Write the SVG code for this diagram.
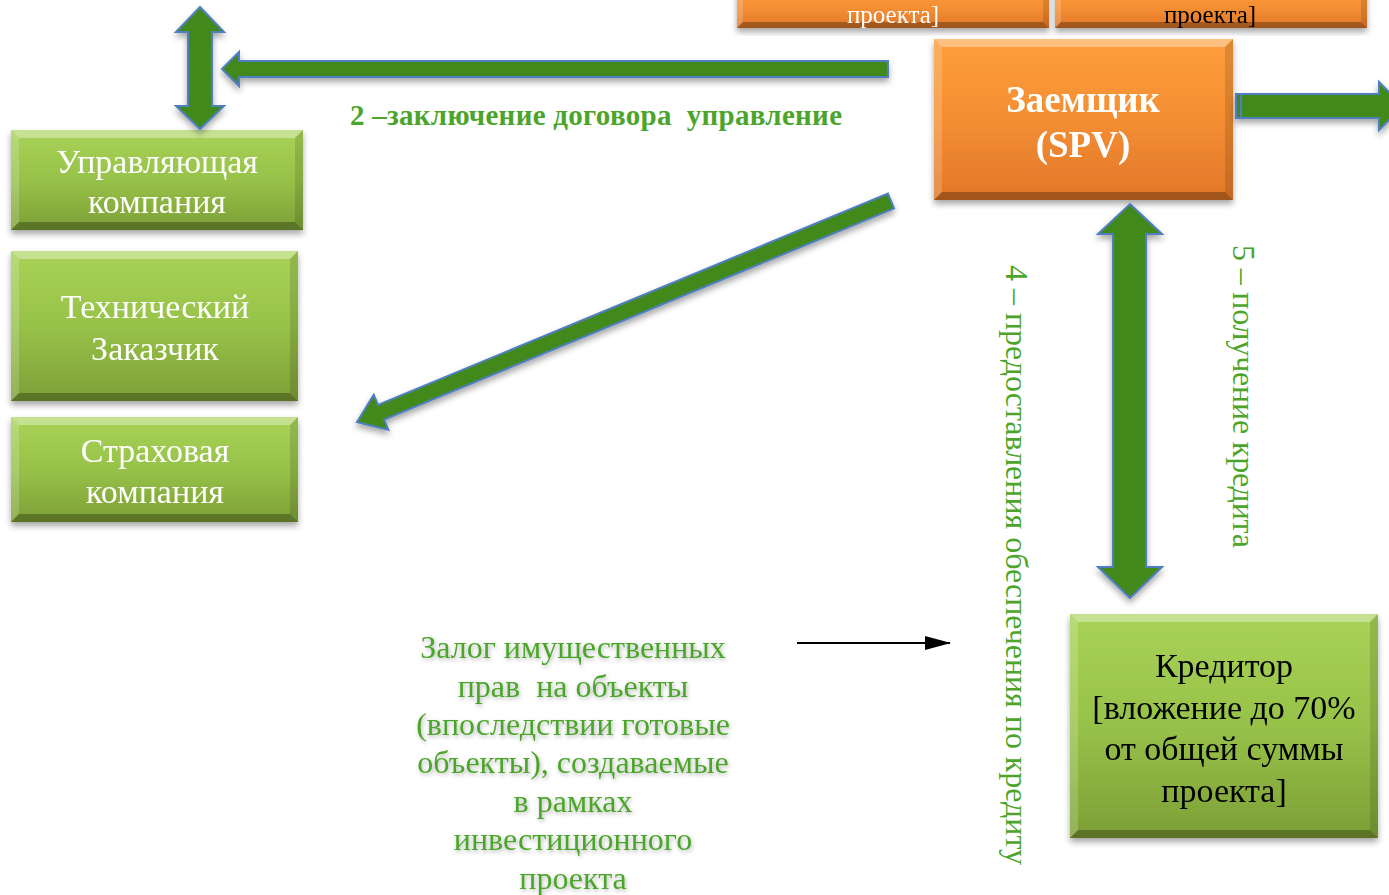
<svg xmlns="http://www.w3.org/2000/svg" width="1389" height="895" viewBox="0 0 1389 895">
<defs>
<linearGradient id="gg" x1="0" y1="0" x2="0" y2="1">
<stop offset="0" stop-color="#a8d357"/>
<stop offset="0.5" stop-color="#97c249"/>
<stop offset="1" stop-color="#7d9f36"/>
</linearGradient>
<linearGradient id="og" x1="0" y1="0" x2="0" y2="1">
<stop offset="0" stop-color="#fd9e3c"/>
<stop offset="0.5" stop-color="#f48e32"/>
<stop offset="1" stop-color="#e0772a"/>
</linearGradient>
<filter id="sh" x="-10%" y="-10%" width="120%" height="130%">
<feDropShadow dx="0" dy="4" stdDeviation="3" flood-color="#000" flood-opacity="0.35"/>
</filter>
<filter id="ts" x="-10%" y="-10%" width="120%" height="130%">
<feDropShadow dx="1" dy="2" stdDeviation="2" flood-color="#000" flood-opacity="0.3"/>
</filter>
<marker id="ah" viewBox="0 0 26 14" refX="25" refY="7" markerWidth="26" markerHeight="14" markerUnits="userSpaceOnUse" orient="auto">
<path d="M0,0 L26,7 L0,14 z" fill="#000"/>
</marker>
</defs>
<style>
.bt{fill:#fff;opacity:.35}
.bl{fill:#fff;opacity:.18}
.br{fill:#000;opacity:.12}
.bb{fill:#000;opacity:.28}
.wt{font-family:"Liberation Serif",serif;font-size:34px;fill:#fff;text-anchor:middle}
.bk{font-family:"Liberation Serif",serif;font-size:34px;fill:#000;text-anchor:middle}
.sm{font-size:25px}
.hd{font-size:37px;font-weight:bold}
.gt{font-family:"Liberation Serif",serif;font-size:32px;fill:#4ca52a}
.lb{font-size:29px;font-weight:bold}
.vt{font-size:32px}
.arr{fill:#43891a;stroke:#4f7fc0;stroke-width:2;stroke-linejoin:miter}
</style>

<g id="top-box-1" filter="url(#sh)">
<rect x="737" y="-12" width="312" height="40" fill="url(#og)"/>
<polygon class="br" points="1049,-12 1049,28 1043,22 1043,-12"/>
<polygon class="bb" points="737,28 743,22 1043,22 1049,28"/>
<polygon class="bl" points="737,-12 743,-12 743,22 737,28"/>
<text class="wt sm" x="893" y="23">проекта]</text>
</g>
<g id="top-box-2" filter="url(#sh)">
<rect x="1055" y="-12" width="312" height="40" fill="url(#og)"/>
<polygon class="br" points="1367,-12 1367,28 1361,22 1361,-12"/>
<polygon class="bb" points="1055,28 1061,22 1361,22 1367,28"/>
<polygon class="bl" points="1055,-12 1061,-12 1061,22 1055,28"/>
<text class="bk sm" x="1210" y="23">проекта]</text>
</g>

<g id="borrower" filter="url(#sh)">
<rect x="934" y="39" width="299" height="161" fill="url(#og)"/>
<polygon class="bt" points="934,39 1233,39 1225,47 942,47"/>
<polygon class="bl" points="934,39 942,47 942,192 934,200"/>
<polygon class="br" points="1233,39 1233,200 1225,192 1225,47"/>
<polygon class="bb" points="934,200 942,192 1225,192 1233,200"/>
<text class="wt hd" x="1083" y="112">Заемщик</text>
<text class="wt hd" x="1083" y="157">(SPV)</text>
</g>

<g id="management" filter="url(#sh)">
<rect x="11" y="130" width="292" height="100" fill="url(#gg)"/>
<polygon class="bt" points="11,130 303,130 295,138 19,138"/>
<polygon class="bl" points="11,130 19,138 19,222 11,230"/>
<polygon class="br" points="303,130 303,230 295,222 295,138"/>
<polygon class="bb" points="11,230 19,222 295,222 303,230"/>
<text class="wt" x="157" y="173">Управляющая</text>
<text class="wt" x="157" y="213">компания</text>
</g>

<g id="technical" filter="url(#sh)">
<rect x="11" y="251" width="287" height="150" fill="url(#gg)"/>
<polygon class="bt" points="11,251 298,251 290,259 19,259"/>
<polygon class="bl" points="11,251 19,259 19,393 11,401"/>
<polygon class="br" points="298,251 298,401 290,393 290,259"/>
<polygon class="bb" points="11,401 19,393 290,393 298,401"/>
<text class="wt" x="155" y="318">Технический</text>
<text class="wt" x="155" y="360">Заказчик</text>
</g>

<g id="insurance" filter="url(#sh)">
<rect x="11" y="417" width="287" height="105" fill="url(#gg)"/>
<polygon class="bt" points="11,417 298,417 290,425 19,425"/>
<polygon class="bl" points="11,417 19,425 19,514 11,522"/>
<polygon class="br" points="298,417 298,522 290,514 290,425"/>
<polygon class="bb" points="11,522 19,514 290,514 298,522"/>
<text class="wt" x="155" y="462">Страховая</text>
<text class="wt" x="155" y="503">компания</text>
</g>

<g id="creditor" filter="url(#sh)">
<rect x="1070" y="614" width="308" height="224" fill="url(#gg)"/>
<polygon class="bt" points="1070,614 1378,614 1370,622 1078,622"/>
<polygon class="bl" points="1070,614 1078,622 1078,830 1070,838"/>
<polygon class="br" points="1378,614 1378,838 1370,830 1370,622"/>
<polygon class="bb" points="1070,838 1078,830 1370,830 1378,838"/>
<text class="bk" x="1224" y="677">Кредитор</text>
<text class="bk" x="1224" y="719">[вложение до 70%</text>
<text class="bk" x="1224" y="760">от общей суммы</text>
<text class="bk" x="1224" y="802">проекта]</text>
</g>

<g id="connectors">
<g filter="url(#sh)">
<polygon class="arr" points="200,7 224,32 212,32 212,106 224,106 200,129 176,106 188,106 188,32 176,32"/>
<polygon class="arr" points="222,69 239,52 239,61 888,61 888,77 239,77 239,86"/>
<polygon class="arr" points="1236,94 1379,94 1379,82 1403,106 1379,130 1379,118 1236,118"/>
<line x1="1241" y1="95" x2="1241" y2="117" stroke="#4f7fc0" stroke-width="2"/>
<polygon class="arr" points="1130,204 1162,234 1146,234 1146,567 1162,567 1130,598 1098,567 1113,567 1113,234 1098,234"/>
<polygon class="arr" transform="translate(891,201) rotate(157.5)" points="0,-8 552,-8 552,-19 578,0 552,19 552,8 0,8"/>
</g>
<line x1="797" y1="643" x2="950" y2="643" stroke="#000" stroke-width="2" marker-end="url(#ah)"/>
</g>

<g id="labels">
<text class="gt lb" x="350" y="125" textLength="492" lengthAdjust="spacing" xml:space="preserve">2 –заключение договора  управление</text>
<text class="gt vt" transform="translate(1006,265) rotate(90)" textLength="600" lengthAdjust="spacing">4 – предоставления обеспечения по кредиту</text>
<text class="gt vt" transform="translate(1233,245) rotate(90)" textLength="303" lengthAdjust="spacing">5 – получение кредита</text>
<g filter="url(#ts)" text-anchor="middle">
<text class="gt" x="573" y="658">Залог имущественных</text>
<text class="gt" x="573" y="697" xml:space="preserve">прав  на объекты</text>
<text class="gt" x="573" y="735">(впоследствии готовые</text>
<text class="gt" x="573" y="773">объекты), создаваемые</text>
<text class="gt" x="573" y="812">в рамках</text>
<text class="gt" x="573" y="850">инвестиционного</text>
<text class="gt" x="573" y="889">проекта</text>
</g>
</g>
</svg>
